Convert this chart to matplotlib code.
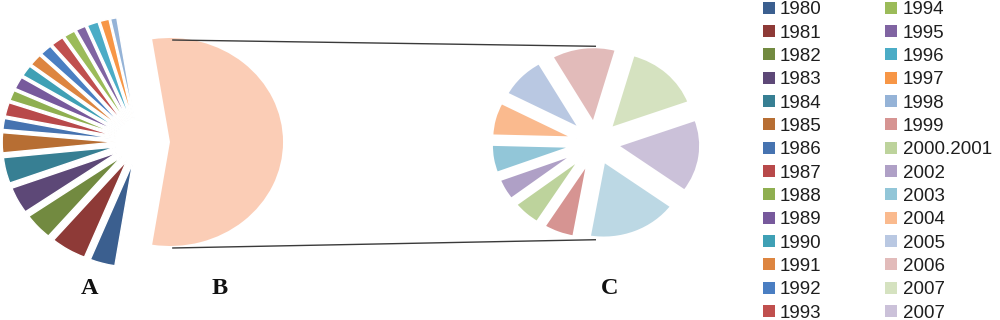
import matplotlib
matplotlib.use("Agg")
import matplotlib.pyplot as plt
from matplotlib.patches import Rectangle

# ---------------- data ----------------
years_a = ["1980", "1981", "1982", "1983", "1984", "1985", "1986", "1987", "1988",
           "1989", "1990", "1991", "1992", "1993", "1994", "1995", "1996", "1997", "1998"]
values_a = [3.6, 5.1, 4.1, 4.1, 4.0, 3.1, 1.7, 2.1, 1.6, 1.9, 1.7, 1.8, 1.7, 1.8,
            1.6, 1.4, 1.6, 1.3, 0.9]
colors_a = ["#3B5F8F", "#8E3A37", "#728A40", "#5D4877", "#377F93", "#B76E33",
            "#4673B0", "#B8494A", "#8FAF50", "#77599C", "#3FA0B5", "#DD8540",
            "#4A7EC2", "#C04F4E", "#9BBB59", "#8064A2", "#4BACC6", "#F79646", "#95B3D7"]

years_c = ["1999", "2000.2001", "2002", "2003", "2004", "2005", "2006", "2007", "2007", ""]
values_c = [3.4, 3.1, 2.6, 3.4, 4.0, 5.0, 7.0, 8.3, 8.6, 9.8]
colors_c = ["#D69492", "#BDD39C", "#AFA0C6", "#92C6D8", "#FABA8E", "#B9C8E2",
            "#E2BBBA", "#D5E2C0", "#CBC1D9", "#BCD8E4"]
color_b = "#FBCDB6"

panel_labels = ["A", "B", "C"]

# ---------------- layout ----------------
W, H = 1000, 320
SX = 1.087  # horizontal stretch of the original picture

fig = plt.figure(figsize=(W / 100, H / 100), dpi=100)
ax = fig.add_axes([0, 0, 1, 1])

def px(x, y):
    """image pixel -> data coords"""
    return x / SX, H - y

R_AB = 104
center_ab = px(139, 142)
explode_a = 0.21
explode_b = 0.274

vals_ab = values_a + [sum(values_c)]
cols_ab = colors_a + [color_b]
expl_ab = [explode_a * R_AB] * len(values_a) + [explode_b * R_AB]
frac_a = sum(values_a) / sum(vals_ab)
start_ab = -(360 * (1 - frac_a)) / 2.0  # B is centred on 0 deg

wedges_ab, _ = ax.pie(vals_ab, colors=cols_ab, explode=expl_ab, startangle=start_ab,
                      counterclock=False, radius=R_AB, center=center_ab,
                      wedgeprops=dict(edgecolor="white", linewidth=1.0), frame=True)
wedges_ab[-1].set_linewidth(0)

R_C = 78
center_c = px(596, 143)
explode_c = 0.24
ax.pie(values_c, colors=colors_c, explode=[explode_c * R_C] * len(values_c),
       startangle=260, counterclock=False, radius=R_C, center=center_c,
       wedgeprops=dict(edgecolor="white", linewidth=2.6), frame=True)

# connector lines from B to C
bx = center_ab[0] + explode_b * R_AB
ax.plot([bx + 2, center_c[0]], [center_ab[1] + R_AB - 2, center_c[1] + R_C * (1 + explode_c)],
        color="#3a3a3a", lw=1.0, solid_capstyle="butt")
ax.plot([bx + 2, center_c[0]], [center_ab[1] - R_AB - 2, center_c[1] - R_C * (1 + explode_c)],
        color="#3a3a3a", lw=1.0, solid_capstyle="butt")

ax.set_aspect("auto")
ax.set_xlim(0, W / SX)
ax.set_ylim(0, H)
ax.axis("off")

# panel letters
for lab, (x, y) in zip(panel_labels, [(90, 289), (220, 289), (610, 288)]):
    fig.text(x / W, 1 - y / H, lab, ha="center", va="center",
             family="Liberation Serif", weight="bold", fontsize=17.5, color="#111111")

# legend (two columns)
leg_labels = years_a + years_c[:-1]
leg_colors = colors_a + colors_c[:-1]
per_col = 14
row0, dy = 7.5, 23.35
cols_x = [(763, 780), (885, 903)]
for i, (lab, col) in enumerate(zip(leg_labels, leg_colors)):
    c, r = divmod(i, per_col)
    sq_x, tx = cols_x[c]
    yc = row0 + dy * r
    fig.add_artist(Rectangle((sq_x / W, 1 - (yc + 6) / H), 12 / W, 12 / H,
                             transform=fig.transFigure, facecolor=col,
                             edgecolor="none"))
    fig.text(tx / W, 1 - (yc + 6.7) / H, lab, ha="left", va="baseline",
             family="Liberation Sans", fontsize=13.5, color="#1e1e1e")

fig.savefig("out.png", dpi=100)
